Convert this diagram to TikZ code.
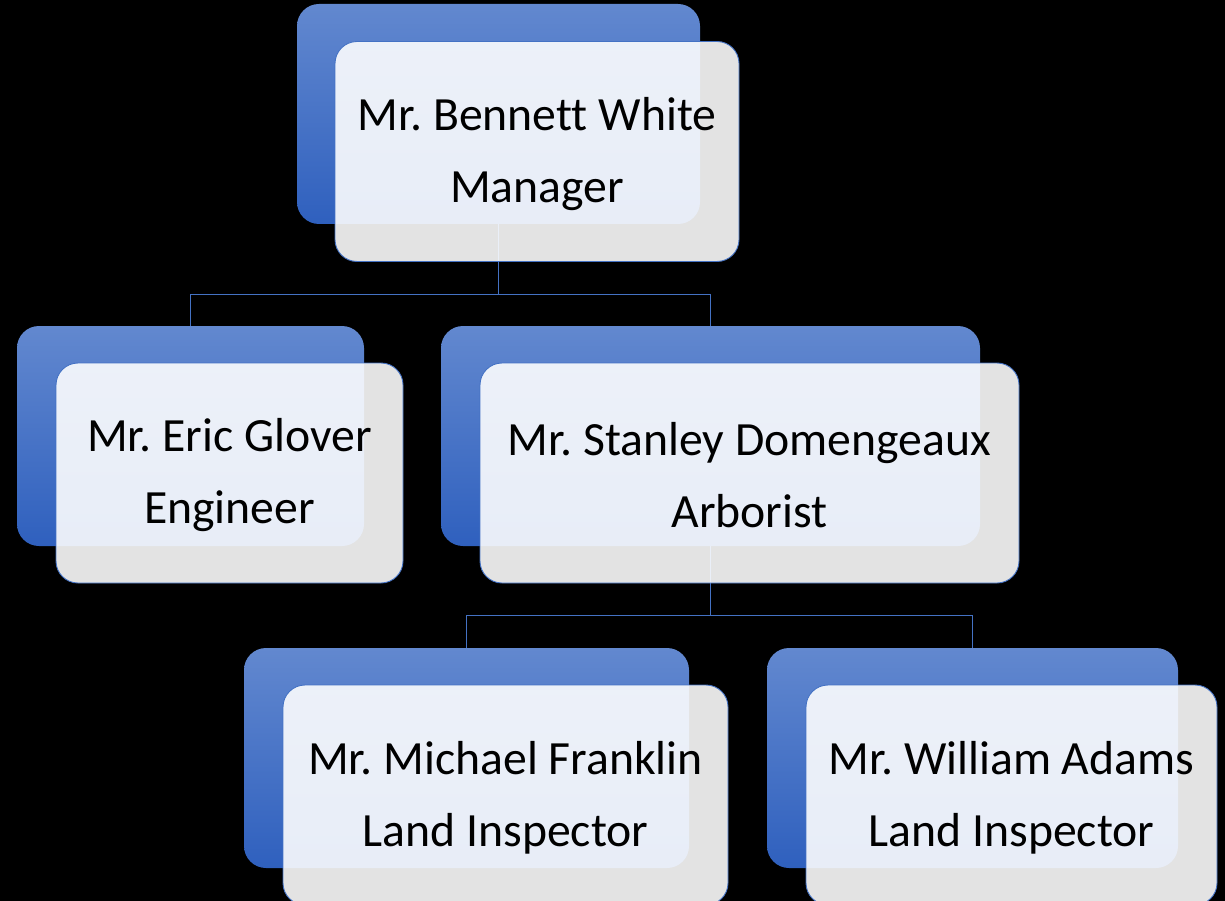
\documentclass[tikz,border=0pt]{standalone}
\usepackage{fontspec}
\setmainfont{Carlito}[Ligatures=CommonOff]
\frenchspacing
\newcommand{\toppad}{\rule{0pt}{38pt}}
\definecolor{bluetop}{RGB}{98,136,207}
\definecolor{bluebot}{RGB}{47,96,190}
\definecolor{edgeblue}{RGB}{68,114,196}
\tikzset{
  backbox/.style={draw=none, rounded corners=22pt, inner sep=0pt, outer sep=0pt,
    top color=bluetop, bottom color=bluebot, minimum height=220pt},
  frontbox/.style={draw=edgeblue, line width=0.9pt, rounded corners=22pt, inner sep=0pt, outer sep=0pt,
    fill=white, fill opacity=0.89, text opacity=1, text=black, minimum height=220pt,
    align=center, font=\fontsize{47.7}{72}\selectfont},
  conn/.style={draw=edgeblue, line width=1pt}
}
\begin{document}
\begin{tikzpicture}[x=1pt,y=-1pt]
\useasboundingbox (0,0) rectangle (1225,901);
\clip (0,0) rectangle (1225,901);
\fill[black] (0,0) rectangle (1225,901);
% back boxes
\node[backbox, minimum width=403pt] (b0) at (498.5,114) {};
\node[backbox, minimum width=347pt] (b1) at (190.5,436) {};
\node[backbox, minimum width=539pt] (b2) at (710.5,436) {};
\node[backbox, minimum width=445pt] (b3) at (466.5,758) {};
\node[backbox, minimum width=411pt] (b4) at (972.5,758) {};
% connectors
\coordinate (j0) at (498.5,294);
\coordinate (j1) at (710.5,615);
\draw[conn] (b0.south) -- (j0) -| (b1.north);
\draw[conn] (j0) -| (b2.north);
\draw[conn] (b2.south) -- (j1) -| (b3.north);
\draw[conn] (j1) -| (b4.north);
% front boxes
\node[frontbox, minimum width=404pt] (f0) at (537,151.5) {\toppad Mr. Bennett White\\Manager};
\node[frontbox, minimum width=347pt] (f1) at (229.5,473) {\toppad Mr. Eric Glover\\Engineer};
\node[frontbox, minimum width=539pt] (f2) at (749.5,473) {\toppad Mr. Stanley Domengeaux\\Arborist};
\node[frontbox, minimum width=445pt] (f3) at (505.5,795) {\toppad Mr. Michael Franklin\\Land Inspector};
\node[frontbox, minimum width=411pt] (f4) at (1011.5,795) {\toppad Mr. William Adams\\Land Inspector};
\end{tikzpicture}
\end{document}
